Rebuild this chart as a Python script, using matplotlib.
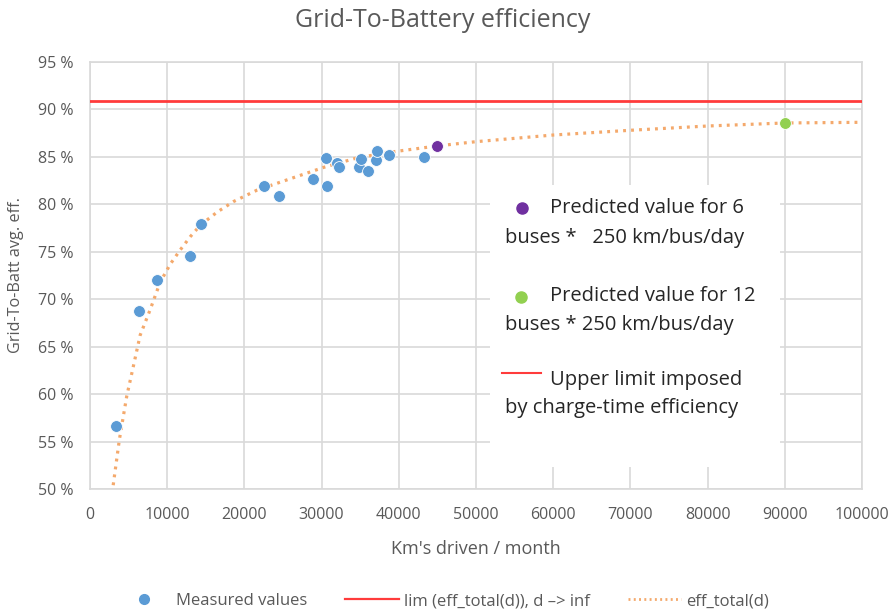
import numpy as np
import matplotlib
matplotlib.use("Agg")
import matplotlib.pyplot as plt
from matplotlib.patches import Rectangle
from matplotlib.lines import Line2D
from matplotlib.ticker import FuncFormatter

plt.rcParams['font.family'] = ['Open Sans', 'DejaVu Sans']

# measured points (km per month, efficiency %)
km_measured = [3400, 6400, 8700, 12900, 14400, 22500, 24500, 28900, 30700, 30600,
               32000, 32200, 34800, 35100, 36000, 37100, 37200, 38700, 43200]
eff_measured = [56.6, 68.8, 72.0, 74.6, 77.9, 81.9, 80.9, 82.7, 81.9, 84.9,
                84.3, 83.9, 83.9, 84.8, 83.5, 84.7, 85.6, 85.2, 85.0]

# predictions
km_pred6, eff_pred6 = 45000, 86.15
km_pred12, eff_pred12 = 90000, 88.57

# upper limit
eff_limit = 90.85

# trend curve eff_total(d)
km_trend = [3000, 3800, 4760, 5630, 6490, 7790, 9090, 10400, 11690, 13000, 14290,
            16500, 18610, 21650, 25970, 30300, 34630, 38960, 45000, 50000,
            60000, 70000, 80000, 90000, 100000]
eff_trend = [50.4, 55.2, 59.8, 63.0, 66.2, 68.9, 71.8, 73.7, 75.2, 76.6, 77.8,
             79.2, 80.3, 81.5, 82.7, 83.9, 84.9, 85.5, 86.15, 86.6,
             87.3, 87.8, 88.25, 88.57, 88.64]

grey = '#595959'
grid = '#d9d9d9'

fig = plt.figure(figsize=(8.95, 6.14), dpi=100)
ax = fig.add_axes([0.1006, 0.2036, 0.8625, 0.6955])

ax.axhline(eff_limit, color='#ff3b3b', lw=2, zorder=3)
ax.plot(km_trend, eff_trend, color='#f4a96c', lw=2.3, ls=(0, (0.9, 1.6)), zorder=4)
ax.plot(km_measured, eff_measured, 'o', color='#5b9bd5', ms=8.5, mec='white', mew=0.6, zorder=5)
ax.plot([km_pred6], [eff_pred6], 'o', color='#7030a0', ms=8.5, mec='white', mew=0.6, zorder=5)
ax.plot([km_pred12], [eff_pred12], 'o', color='#92d050', ms=8.5, mec='white', mew=0.6, zorder=5)

ax.set_xlim(0, 100000)
ax.set_ylim(50, 95)
ax.set_xticks(np.arange(0, 100001, 10000))
ax.set_yticks(np.arange(50, 96, 5))
ax.yaxis.set_major_formatter(FuncFormatter(lambda v, p: '%d %%' % v))
ax.grid(True, color=grid, lw=1.2)
ax.set_axisbelow(True)
for s in ax.spines.values():
    s.set_color(grid)
    s.set_linewidth(1.2)
ax.tick_params(length=0, labelsize=11.5, colors=grey)
ax.tick_params(axis='x', pad=13)
ax.tick_params(axis='y', pad=12)

# title sits centred on the whole figure, like the original
fig.text(0.495, 0.966, 'Grid-To-Battery efficiency', fontsize=18, color=grey,
         ha='center', va='center')
ax.set_xlabel("Km's driven / month", fontsize=13, color=grey, labelpad=12)
ax.set_ylabel('Grid-To-Batt avg. eff.', fontsize=11.7, color=grey, labelpad=10)

# white box with notes inside the plot
ax.add_patch(Rectangle((0.518, 0.0515), 0.376, 0.6605, transform=ax.transAxes,
                       facecolor='white', edgecolor='none', zorder=2.5))
tk = dict(transform=ax.transAxes, fontsize=14.5, color='#262626', va='center', zorder=6)
ax.plot([0.560], [0.658], 'o', color='#7030a0', ms=8, transform=ax.transAxes, zorder=6)
ax.text(0.596, 0.658, 'Predicted value for 6', **tk)
ax.text(0.537, 0.588, 'buses *   250 km/bus/day', **tk)
ax.plot([0.558], [0.450], 'o', color='#92d050', ms=8, transform=ax.transAxes, zorder=6)
ax.text(0.596, 0.452, 'Predicted value for 12', **tk)
ax.text(0.537, 0.384, 'buses * 250 km/bus/day', **tk)
ax.plot([0.534, 0.584], [0.272, 0.272], color='#ff3b3b', lw=1.5, transform=ax.transAxes, zorder=6)
ax.text(0.596, 0.255, 'Upper limit imposed', **tk)
ax.text(0.537, 0.189, 'by charge-time efficiency', **tk)

handles = [
    Line2D([], [], ls='none', marker='o', color='#5b9bd5', ms=7),
    Line2D([], [], color='#ff3b3b', lw=1.6),
    Line2D([], [], color='#f4a96c', lw=2, ls=(0, (0.7, 1.2))),
]
labels = ['Measured values', 'lim (eff_total(d)), d –> inf', 'eff_total(d)']
leg = fig.legend(handles, labels, loc='center', bbox_to_anchor=(0.495, 1 - 601 / 614), ncol=3,
                 frameon=False, fontsize=12, handlelength=3.2, handletextpad=0.3,
                 columnspacing=2.3)
for t in leg.get_texts():
    t.set_color(grey)

fig.savefig('out.png', dpi=100)
